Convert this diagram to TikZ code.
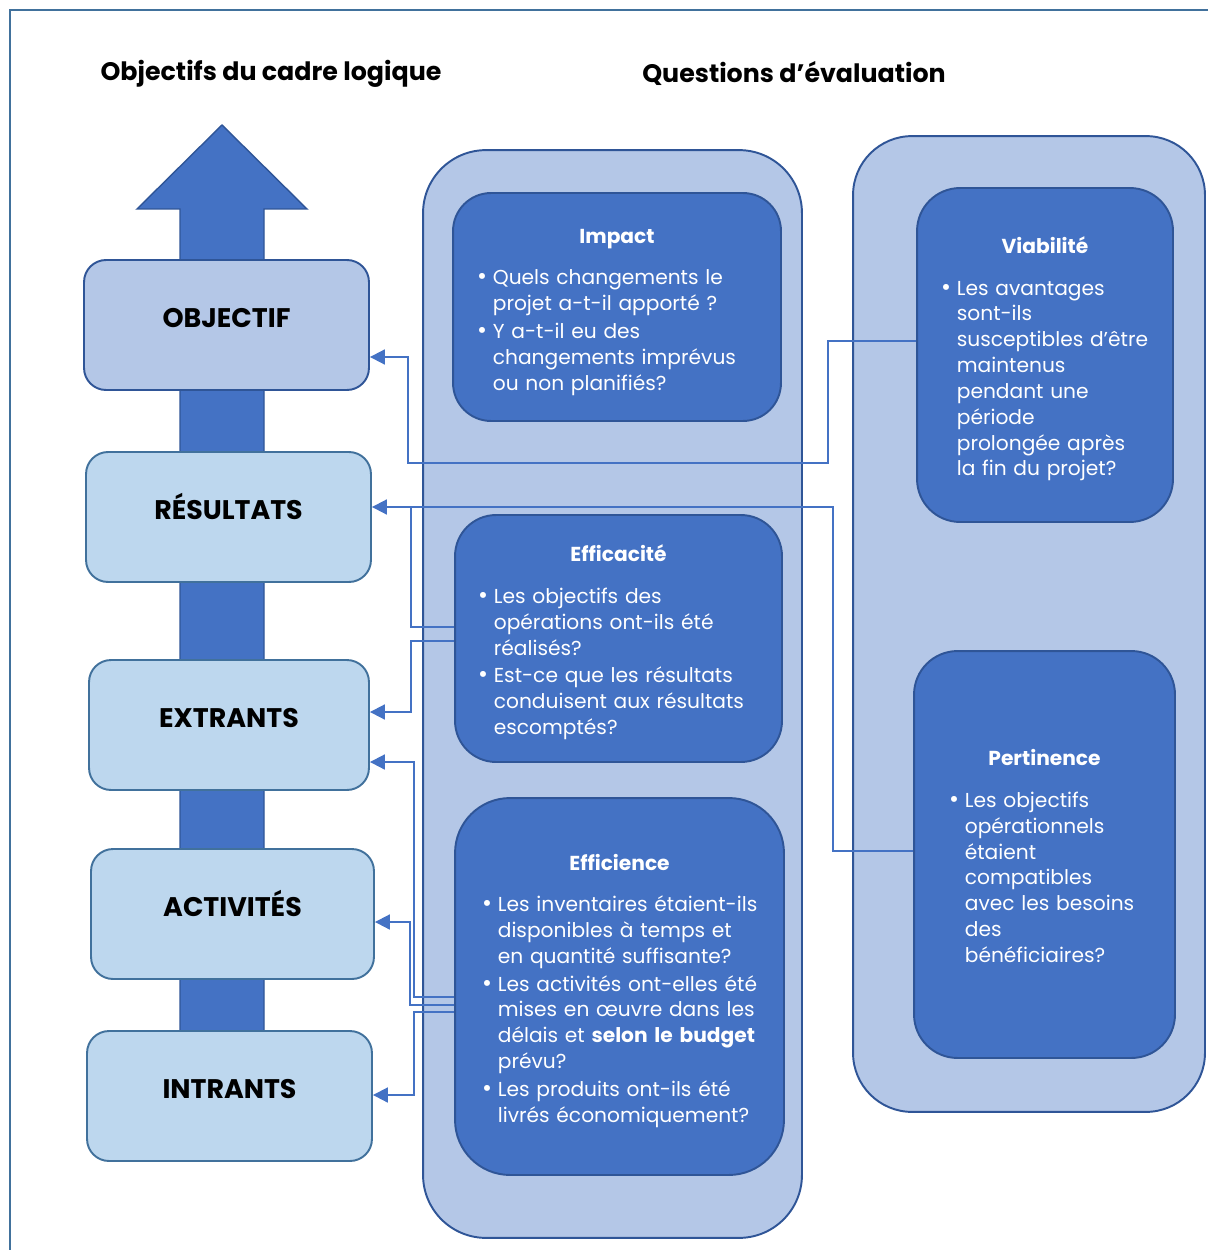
\documentclass[tikz,border=0pt]{standalone}
\usepackage{fontspec}
\setmainfont{Poppins}
\usetikzlibrary{arrows.meta}

\definecolor{darkblue}{HTML}{2F5597}
\definecolor{midblue}{HTML}{4472C4}
\definecolor{lavblue}{HTML}{B4C7E7}
\definecolor{paleblue}{HTML}{BDD7EE}
\definecolor{steelblue}{HTML}{41719C}

% title and bullet lines inside the question boxes
\newcommand{\qtitle}[1]{{\centering\bfseries\rule{0pt}{15.3pt}#1\par}\vspace{9.1pt}}
\newcommand{\qitem}[1]{\par\noindent\makebox[9pt][l]{\scalebox{1.2}{\textbullet}}%
    \begin{tabular}[t]{@{}l@{}}#1\end{tabular}\par}

\begin{document}
\begin{tikzpicture}[x=0.02cm,y=-0.02cm,
    head/.style={font=\fontsize{14.4}{17}\selectfont\bfseries},
    lbox/.style={rectangle,rounded corners=0.44cm,line width=1.1pt,draw=steelblue,fill=paleblue,
        font=\fontsize{15.3}{18}\selectfont\bfseries,text height=14pt,text depth=11pt},
    colbox/.style={rectangle,line width=1.1pt,draw=darkblue,fill=lavblue},
    qbox/.style={rectangle,line width=1.1pt,draw=darkblue,fill=midblue,text=white,inner ysep=2pt,
        font=\fontsize{11.5}{14.7}\selectfont},
    conn/.style={line width=1.1pt,midblue},
    tip/.style={-{Triangle[length=8.5pt,width=8.5pt]}}]
    \useasboundingbox (0,0) rectangle (1208,1250);

    % frame
    \draw[line width=1.1pt,steelblue] (10,1250) -- (10,10) -- (1208,10);

    % headings
    \node[head] (hleft) at (271,74) {Objectifs du cadre logique};
    \node[head] (hright) at (794,73) {Questions d’évaluation};

    % big arrow behind the levels
    \draw[line width=0.8pt,darkblue,fill=midblue]
        (180,1100) -- (180,209) -- (137,209) -- (222,125) -- (307,209) -- (264,209) -- (264,1100) -- cycle;

    % levels of the logical framework
    \node[lbox,fill=lavblue,draw=darkblue,minimum width=5.7cm,minimum height=2.6cm] (obj) at (226.5,325) {OBJECTIF};
    \node[lbox,minimum width=5.7cm,minimum height=2.6cm] (res) at (228.5,517) {RÉSULTATS};
    \node[lbox,minimum width=5.6cm,minimum height=2.6cm] (extr) at (229,725) {EXTRANTS};
    \node[lbox,minimum width=5.66cm,minimum height=2.6cm] (act) at (232.5,914) {ACTIVITÉS};
    \node[lbox,minimum width=5.7cm,minimum height=2.6cm] (intr) at (229.5,1096) {INTRANTS};

    % columns
    \node[colbox,rounded corners=1.26cm,minimum width=7.58cm,minimum height=21.76cm] (colL) at (612.5,694) {};
    \node[colbox,rounded corners=1.18cm,minimum width=7.04cm,minimum height=19.52cm] (colR) at (1029,624) {};

    % evaluation questions
    \node[qbox,rounded corners=0.76cm,minimum height=4.56cm,inner xsep=0.48cm,text width=5.6cm] (impact) at (617,307) {%
        \qtitle{Impact}
        \qitem{Quels changements le\\projet a-t-il apporté ?}
        \qitem{Y a-t-il eu des\\changements imprévus\\ou non planifiés?}};
    \node[qbox,rounded corners=0.82cm,minimum height=4.94cm,inner xsep=0.46cm,text width=5.62cm] (effa) at (618.5,638.5) {%
        \qtitle{Efficacité}
        \qitem{Les objectifs des\\opérations ont-ils été\\réalisés?}
        \qitem{Est-ce que les résultats\\conduisent aux résultats\\escomptés?}};
    \node[qbox,rounded corners=1.1cm,minimum height=7.54cm,inner xsep=0.54cm,text width=5.5cm] (effi) at (619.5,986.5) {%
        \qtitle{Efficience}
        \qitem{Les inventaires étaient-ils\\disponibles à temps et\\en quantité suffisante?}
        \qitem{Les activités ont-elles été\\mises en œuvre dans les\\délais et \textbf{selon le budget}\\prévu?}
        \qitem{Les produits ont-ils été\\livrés économiquement?}};
    \node[qbox,rounded corners=0.86cm,minimum height=6.68cm,inner xsep=0.48cm,text width=4.16cm] (viab) at (1045,355) {%
        \qtitle{Viabilité}
        \qitem{Les avantages\\sont-ils\\susceptibles d'être\\maintenus\\pendant une\\période\\prolongée après\\la fin du projet?}};
    \node[qbox,rounded corners=0.87cm,minimum height=8.14cm,inner xsep=0.7cm,text width=3.82cm] (pert) at (1044.5,854.5) {%
        \qtitle{Pertinence}
        \qitem{Les objectifs\\opérationnels\\étaient\\compatibles\\avec les besoins\\des\\bénéficiaires?}};

    % links from questions to levels
    \draw[conn,tip] (viab.west |- 0,341) -- (828,341) |- (408,463) |- (obj.east |- 0,357);
    \draw[conn,tip] (pert.west |- 0,851) -| (833,507) -- (res.east |- 0,507);
    \draw[conn] (effa.west |- 0,627) -| (411,507);
    \draw[conn,tip] (effa.west |- 0,641) -| (411,712) -- (extr.east |- 0,712);
    \draw[conn,tip] (effi.west |- 0,997) -| (414,762) -- (extr.east |- 0,762);
    \draw[conn,tip] (effi.west |- 0,1005) -| (410,922) -- (act.east |- 0,922);
    \draw[conn,tip] (effi.west |- 0,1012) -| (414,1095) -- (intr.east |- 0,1095);
\end{tikzpicture}
\end{document}
